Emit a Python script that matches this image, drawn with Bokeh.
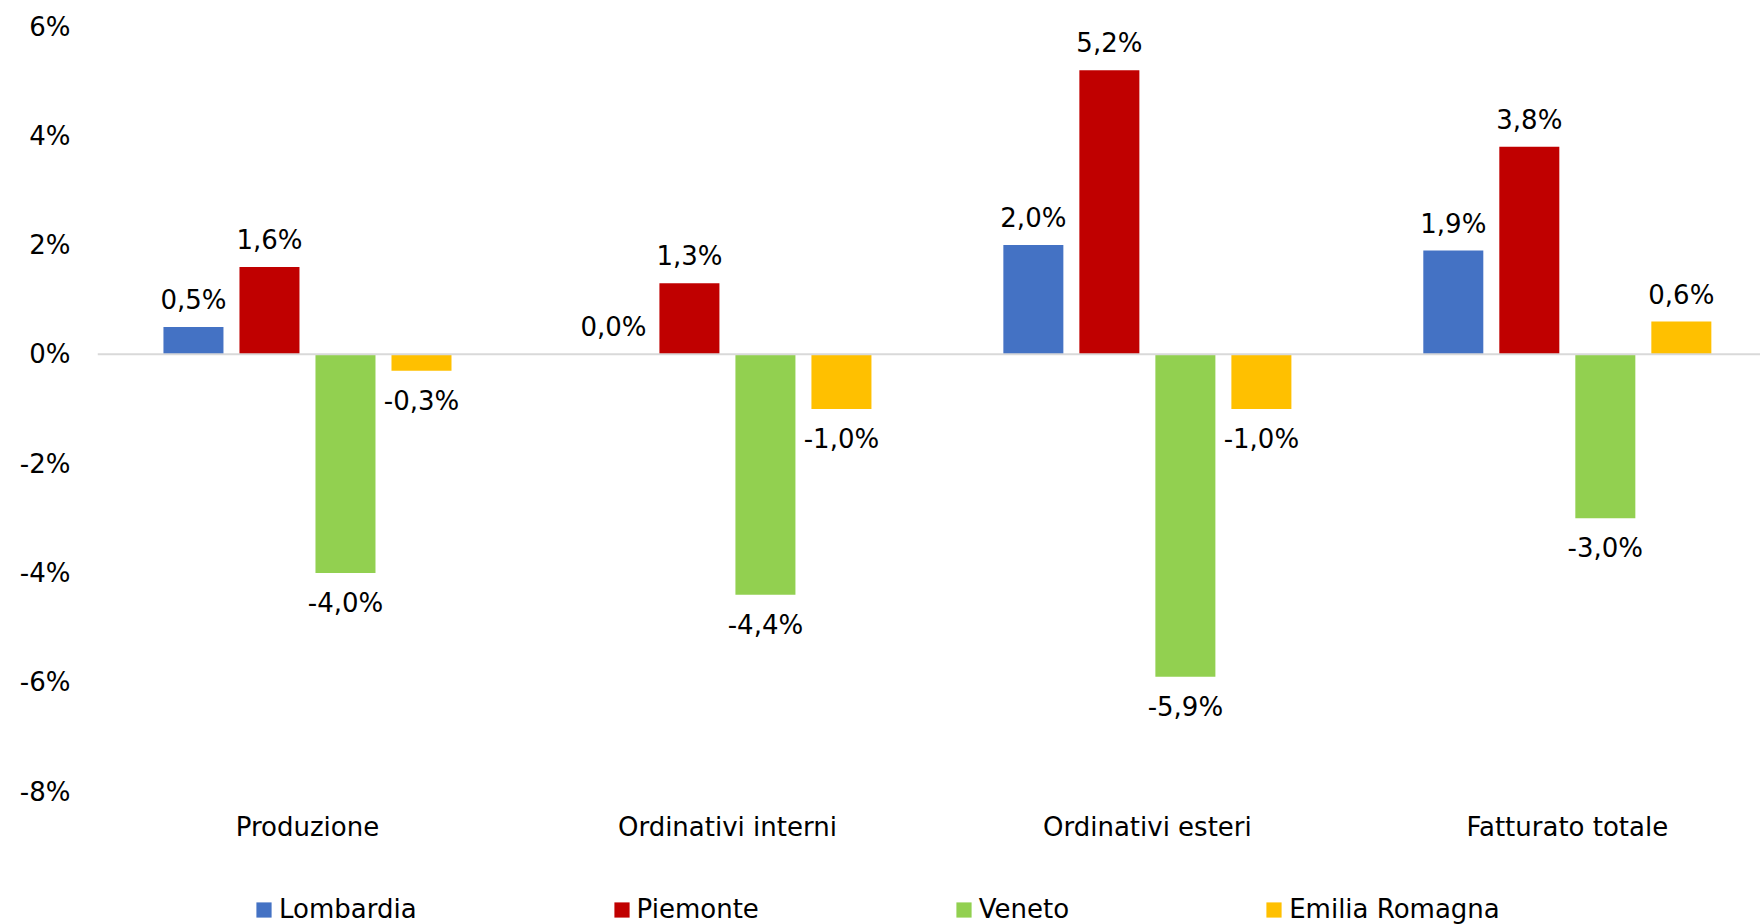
from bokeh.plotting import figure
from bokeh.layouts import column
from bokeh.models import (ColumnDataSource, Range1d, Span, Legend,
                          LegendItem, FixedTicker)
from bokeh.core.properties import value
from bokeh.embed import file_html
from bokeh.resources import INLINE

# Variazioni congiunturali per indicatore e regione (%)
categories = ["Produzione", "Ordinativi interni", "Ordinativi esteri", "Fatturato totale"]
regions = ["Lombardia", "Piemonte", "Veneto", "Emilia Romagna"]
lombardia = [0.5, 0.0, 2.0, 1.9]
piemonte = [1.6, 1.3, 5.2, 3.8]
veneto = [-4.0, -4.4, -5.9, -3.0]
emilia = [-0.3, -1.0, -1.0, 0.6]
y_ticks = [-8, -6, -4, -2, 0, 2, 4, 6]

series = [lombardia, piemonte, veneto, emilia]
colors = ["#4472C4", "#C00000", "#92D050", "#FFC000"]
FONT = "DejaVu Sans"
FS = "26px"

# each category occupies one unit; the last group sits close to the right edge
centers = [i + 0.5 for i in range(len(categories))]

p = figure(width=1760, height=860, x_range=Range1d(0, 3.96),
           y_range=Range1d(-8, 6), output_backend="svg", toolbar_location=None,
           min_border_left=97, min_border_right=0, min_border_top=26,
           min_border_bottom=69)
p.outline_line_color = None
p.xgrid.visible = False
p.ygrid.visible = False
p.background_fill_color = "white"
p.border_fill_color = "white"

# Y axis: percent ticks, no lines
p.yaxis.ticker = FixedTicker(ticks=y_ticks)
p.yaxis.major_label_overrides = {t: f"{t}%" for t in y_ticks}
p.yaxis.axis_line_color = None
p.yaxis.major_tick_line_color = None
p.yaxis.minor_tick_line_color = None
p.yaxis.major_tick_out = 0
p.yaxis.major_tick_in = 0
p.yaxis.major_label_standoff = 27
p.yaxis.major_label_text_font = FONT
p.yaxis.major_label_text_font_size = FS
p.yaxis.major_label_text_color = "#000000"

# X axis: category names only
p.xaxis.ticker = FixedTicker(ticks=centers)
p.xaxis.major_label_overrides = {c: name for c, name in zip(centers, categories)}
p.xaxis.axis_line_color = None
p.xaxis.major_tick_line_color = None
p.xaxis.minor_tick_line_color = None
p.xaxis.major_tick_out = 0
p.xaxis.major_tick_in = 0
p.xaxis.major_label_standoff = 20
p.xaxis.major_label_text_font = FONT
p.xaxis.major_label_text_font_size = FS
p.xaxis.major_label_text_color = "#000000"

# Zero baseline
p.add_layout(Span(location=0, dimension="width", line_color="#D9D9D9", line_width=2))

bar_w = 0.1429
step = 0.181
offsets = [-1.5 * step, -0.5 * step, 0.5 * step, 1.5 * step]

sources = []
for name, vals, col, off in zip(regions, series, colors, offsets):
    xs = [c + off for c in centers]
    labels = [f"{v:.1f}".replace(".", ",") + "%" for v in vals]
    yoff = [-27 if v >= 0 else 30 for v in vals]
    src = ColumnDataSource(dict(x=xs, val=vals, label=labels, yoff=yoff))
    sources.append(src)
    p.vbar(x="x", top="val", bottom=0, width=bar_w, source=src,
           fill_color=col, line_color=None)
    p.text(x="x", y="val", text="label", y_offset="yoff", source=src,
           text_align="center", text_baseline="middle", text_font=value(FONT),
           text_font_size=value(FS), text_color="#000000")

# Legend strip underneath the chart
leg = figure(width=1760, height=64, x_range=Range1d(0, 1), y_range=Range1d(0, 1),
             output_backend="svg", toolbar_location=None, min_border=0)
leg.axis.visible = False
leg.grid.visible = False
leg.outline_line_color = None
leg.border_fill_color = "white"

items = []
for name, col, src in zip(regions, colors, sources):
    # hidden twin of each series, used only for its legend swatch
    r = leg.vbar(x="x", top="val", bottom=0, width=bar_w, source=src,
                 fill_color=col, line_color=None, visible=False)
    items.append(LegendItem(label=name, renderers=[r]))

legend = Legend(items=items, orientation="horizontal", location=(157, 0),
                glyph_width=19, glyph_height=19, label_standoff=6, spacing=195,
                padding=0, margin=0, border_line_color=None,
                background_fill_alpha=0, label_text_font=FONT,
                label_text_font_size=FS, label_text_color="#000000")
leg.add_layout(legend)

layout = column(p, leg, spacing=0)
open("out.html", "w").write(file_html(layout, INLINE))
